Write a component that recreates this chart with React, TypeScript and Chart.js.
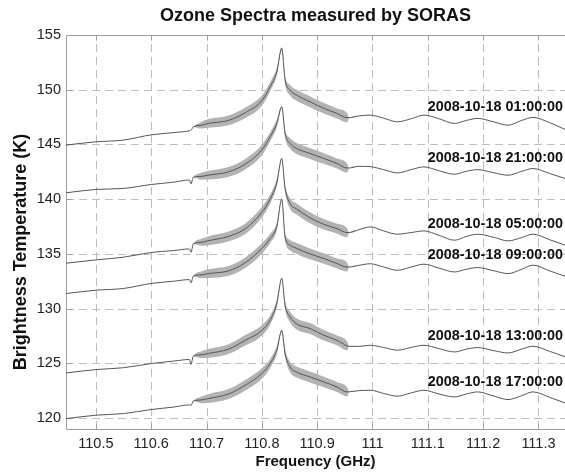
import React, { useEffect, useRef } from 'react';
import Chart from 'chart.js/auto';

// ---- data ----
const frequencies = [
  110.446, 110.5, 110.55, 110.6, 110.64, 110.669, 110.672, 110.676, 110.69, 110.703,
  110.74, 110.77, 110.8, 110.815, 110.827, 110.836, 110.842, 110.851, 110.863, 110.887,
  110.912, 110.936, 110.954, 110.958, 110.975, 110.996, 111.02, 111.045, 111.07, 111.093,
  111.12, 111.148, 111.17, 111.19, 111.22, 111.245, 111.27, 111.29, 111.32, 111.348,
];

const spectrum0100 = [
  144.94, 145.24, 145.4, 145.88, 146.08, 146.25, 146.3, 146.6, 146.75, 146.92,
  147.2, 147.9, 149.0, 150.27, 151.64, 153.8, 150.9, 149.96, 149.5, 148.9,
  148.3, 147.83, 147.45, 147.45, 147.6, 147.68, 147.4, 147.07, 147.35, 147.68,
  147.35, 146.92, 147.2, 147.38, 147.05, 146.76, 147.2, 147.47, 147.0, 146.37,
];
const spectrum2100 = [
  140.58, 140.89, 140.98, 141.34, 141.55, 141.75, 141.4, 141.98, 142.08, 142.19,
  142.5, 143.2, 144.5, 145.7, 146.9, 148.44, 146.0, 145.1, 144.63, 144.18,
  143.72, 143.26, 142.85, 142.85, 143.0, 142.97, 142.7, 142.4, 142.7, 142.95,
  142.6, 142.28, 142.55, 142.7, 142.4, 142.19, 142.55, 142.8, 142.35, 141.89,
];
const spectrum0500 = [
  134.15, 134.45, 134.7, 135.13, 135.3, 135.45, 135.15, 135.9, 136.05, 136.2,
  136.6, 137.3, 138.8, 140.0, 141.5, 143.7, 141.0, 139.6, 139.1, 138.3,
  137.7, 137.3, 136.95, 136.95, 137.2, 137.47, 137.1, 136.8, 136.95, 137.1,
  136.7, 136.25, 136.6, 136.8, 136.5, 136.19, 136.5, 136.8, 136.3, 135.8,
];
const spectrum0900 = [
  131.38, 131.68, 131.84, 132.3, 132.5, 132.65, 132.35, 132.96, 133.08, 133.2,
  133.45, 134.2, 135.5, 136.4, 137.5, 140.0, 136.55, 135.8, 135.5, 135.0,
  134.58, 134.12, 133.8, 133.8, 133.95, 134.1, 133.8, 133.5, 133.8, 134.06,
  133.7, 133.35, 133.6, 133.75, 133.45, 133.2, 133.6, 133.97, 133.45, 132.96,
];
const spectrum1300 = [
  124.12, 124.43, 124.6, 124.98, 125.2, 125.35, 124.9, 125.65, 125.78, 125.9,
  126.3, 127.1, 128.0, 128.94, 130.47, 132.75, 130.3, 129.24, 128.6, 128.18,
  127.57, 127.1, 126.6, 126.55, 126.55, 126.65, 126.45, 126.2, 126.45, 126.65,
  126.35, 126.04, 126.3, 126.44, 126.15, 125.95, 126.3, 126.56, 126.1, 125.6,
];
const spectrum1700 = [
  119.95, 120.26, 120.41, 120.78, 121.0, 121.2, 121.15, 121.55, 121.65, 121.78,
  122.2, 123.0, 124.07, 124.98, 126.2, 128.0, 125.9, 124.67, 124.2, 123.76,
  123.3, 122.84, 122.39, 122.4, 122.5, 122.54, 122.25, 122.0, 122.3, 122.54,
  122.2, 121.93, 122.2, 122.39, 122.0, 121.69, 122.05, 122.39, 121.9, 121.38,
];

// half width of the noisy grey band around each spectrum (K)
const noiseHalfWidth = [
  0, 0, 0, 0, 0, 0, 0, 0, 0.3, 0.4,
  0.45, 0.48, 0.48, 0.42, 0.35, 0.08, 0.35, 0.48, 0.5, 0.5,
  0.48, 0.45, 0.42, 0, 0, 0, 0, 0, 0, 0,
  0, 0, 0, 0, 0, 0, 0, 0, 0, 0,
];

const seriesLabels = [
  '2008-10-18 01:00:00',
  '2008-10-18 21:00:00',
  '2008-10-18 05:00:00',
  '2008-10-18 09:00:00',
  '2008-10-18 13:00:00',
  '2008-10-18 17:00:00',
];
const allSeries = [spectrum0100, spectrum2100, spectrum0500, spectrum0900, spectrum1300, spectrum1700];

const xTickValues = [110.5, 110.6, 110.7, 110.8, 110.9, 111, 111.1, 111.2, 111.3];
const yTickValues = [120, 125, 130, 135, 140, 145, 150, 155];
const xMin = 110.446;
const xMax = 111.348;
const yMin = 119;
const yMax = 155;

const chartTitle = 'Ozone Spectra measured by SORAS';
const xTitle = 'Frequency (GHz)';
const yTitle = 'Brightness Temperature (K)';
const labelAnchorIndex = 37;

const FONT = '"Liberation Sans", Arial, Helvetica, sans-serif';

const decorPlugin = {
  id: 'decor',
  beforeDatasetsDraw(chart: any) {
    const { ctx, chartArea } = chart;
    const xs = chart.scales.x;
    const ys = chart.scales.y;
    ctx.save();
    ctx.lineWidth = 1;
    ctx.strokeStyle = '#bdbdbd';
    ctx.setLineDash([8, 5]);
    xTickValues.forEach((v) => {
      const x = Math.round(xs.getPixelForValue(v)) + 0.5;
      ctx.beginPath();
      ctx.moveTo(x, chartArea.bottom);
      ctx.lineTo(x, chartArea.top);
      ctx.stroke();
    });
    yTickValues.forEach((v) => {
      if (v >= yMax) return;
      const y = Math.round(ys.getPixelForValue(v)) + 0.5;
      ctx.beginPath();
      ctx.moveTo(chartArea.left, y);
      ctx.lineTo(chartArea.right, y);
      ctx.stroke();
    });
    ctx.setLineDash([]);
    // axes
    ctx.strokeStyle = '#a0a0a0';
    const l = Math.round(chartArea.left) + 0.5;
    const b = Math.round(chartArea.bottom) + 0.5;
    const t = Math.round(chartArea.top) + 0.5;
    ctx.beginPath();
    ctx.moveTo(l, t);
    ctx.lineTo(l, b);
    ctx.lineTo(chartArea.right, b);
    ctx.moveTo(l, t);
    ctx.lineTo(chartArea.right, t);
    ctx.stroke();
    // inward ticks
    xTickValues.forEach((v) => {
      const x = Math.round(xs.getPixelForValue(v)) + 0.5;
      ctx.beginPath();
      ctx.moveTo(x, b);
      ctx.lineTo(x, b - 5);
      ctx.moveTo(x, t);
      ctx.lineTo(x, t + 5);
      ctx.stroke();
    });
    yTickValues.forEach((v) => {
      const y = Math.round(ys.getPixelForValue(v)) + 0.5;
      ctx.beginPath();
      ctx.moveTo(l, y);
      ctx.lineTo(l + 5, y);
      ctx.stroke();
    });
    ctx.restore();
  },
  afterDraw(chart: any) {
    const { ctx, chartArea } = chart;
    const ys = chart.scales.y;
    ctx.save();
    ctx.fillStyle = '#111';
    ctx.textAlign = 'center';
    ctx.textBaseline = 'middle';
    const cx = (chartArea.left + chartArea.right) / 2;
    ctx.font = `bold 18px ${FONT}`;
    ctx.fillText(chartTitle, cx, 16);
    ctx.font = `bold 15px ${FONT}`;
    ctx.fillText(xTitle, cx, 462);
    ctx.save();
    ctx.translate(21.5, 252);
    ctx.rotate(-Math.PI / 2);
    ctx.font = `bold 18px ${FONT}`;
    ctx.fillText(yTitle, 0, 0);
    ctx.restore();
    ctx.font = `bold 14.4px ${FONT}`;
    ctx.textAlign = 'right';
    allSeries.forEach((s, i) => {
      const y = ys.getPixelForValue(s[labelAnchorIndex]) - 10;
      ctx.fillText(seriesLabels[i], 563, y);
    });
    ctx.restore();
  },
};

export default function App() {
  const ref = useRef<HTMLCanvasElement | null>(null);
  useEffect(() => {
    if (!ref.current) return;
    const lineSets = allSeries.map((s, i) => ({
      label: seriesLabels[i],
      data: frequencies.map((f, j) => ({ x: f, y: s[j] })),
      borderColor: '#555555',
      borderWidth: 1,
      pointRadius: 0,
      fill: false,
      cubicInterpolationMode: 'monotone' as const,
    }));
    const bandSets: any[] = [];
    allSeries.forEach((s, i) => {
      bandSets.push({
        label: seriesLabels[i] + ' upper',
        data: frequencies.map((f, j) => ({ x: f, y: s[j] + noiseHalfWidth[j] })),
        borderWidth: 0,
        borderColor: 'rgba(0,0,0,0)',
        backgroundColor: '#b3b3b3',
        pointRadius: 0,
        fill: '+1',
        cubicInterpolationMode: 'monotone',
      });
      bandSets.push({
        label: seriesLabels[i] + ' lower',
        data: frequencies.map((f, j) => ({ x: f, y: s[j] - noiseHalfWidth[j] })),
        borderWidth: 0,
        borderColor: 'rgba(0,0,0,0)',
        pointRadius: 0,
        fill: false,
        cubicInterpolationMode: 'monotone',
      });
    });
    const tickFont = { family: FONT, size: 14.5 };
    const chart = new Chart(ref.current, {
      type: 'line',
      data: { datasets: [...lineSets, ...bandSets] },
      options: {
        animation: false,
        responsive: false,
        devicePixelRatio: 1,
        layout: { padding: { top: 35, right: 0, left: 0, bottom: 0 } },
        plugins: { legend: { display: false }, tooltip: { enabled: false }, title: { display: false } },
        scales: {
          x: {
            type: 'linear',
            min: xMin,
            max: xMax,
            grid: { display: false, drawTicks: false },
            border: { display: false },
            afterBuildTicks: (s: any) => {
              s.ticks = xTickValues.map((v) => ({ value: v }));
            },
            afterFit: (s: any) => {
              s.height = 44;
            },
            ticks: {
              autoSkip: false,
              maxRotation: 0,
              padding: 6,
              color: '#222',
              font: tickFont,
              callback: (v: any) => String(v),
            },
          },
          y: {
            type: 'linear',
            min: yMin,
            max: yMax,
            grid: { display: false, drawTicks: false },
            border: { display: false },
            afterBuildTicks: (s: any) => {
              s.ticks = yTickValues.map((v) => ({ value: v }));
            },
            afterFit: (s: any) => {
              s.width = 66;
            },
            ticks: {
              autoSkip: false,
              padding: 5,
              color: '#222',
              font: tickFont,
              callback: (v: any) => String(v),
            },
          },
        },
      },
      plugins: [decorPlugin],
    } as any);
    return () => chart.destroy();
  }, []);
  return (
    <div style={{ position: 'absolute', left: 0, top: 0, width: 565, height: 473, background: '#fff' }}>
      <canvas ref={ref} width={565} height={473} style={{ display: 'block' }} />
    </div>
  );
}
